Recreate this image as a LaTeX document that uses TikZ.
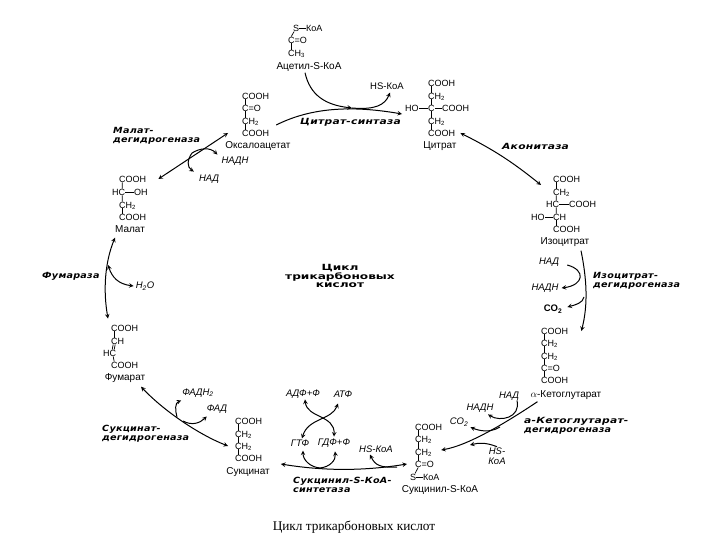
\documentclass[tikz,border=0pt]{standalone}
\usepackage{fontspec}
\setmainfont{Liberation Sans}
\newfontfamily\enzfont[LetterSpace=3,FakeStretch=1.13]{DejaVu Sans}
\newfontfamily\enzwide[LetterSpace=3,FakeStretch=1.26]{DejaVu Sans}
\newfontfamily\titlefont[FakeStretch=1.43]{DejaVu Sans}
\newfontfamily\capfont{Liberation Serif}
\usepackage{tikz}
\begin{document}
\begin{tikzpicture}[x=1pt, y=-1pt,
  every node/.style={inner sep=0pt},
  chem/.style={anchor=west, font=\fontsize{9}{9}\selectfont, text height=6.5pt, text depth=0pt},
  molname/.style={font=\fontsize{10}{10}\selectfont},
  cof/.style={font=\itshape\fontsize{9.5}{9.5}\selectfont, align=center},
  enz/.style={anchor=west, align=left, font=\enzfont\bfseries\itshape\fontsize{8.5}{9}\selectfont},
  bond/.style={line width=0.7pt},
  react/.style={line width=1pt, -stealth},
  both/.style={line width=1pt, stealth-stealth}]
\useasboundingbox (0,0) rectangle (720,540);
% acetyl
\node[chem] (ac1) at (293,28) {S};
\node[chem] (ac1b) at (306,28) {КоА};
\node[chem] (ac2) at (288,40) {C=O};
\node[chem] (ac3) at (288,53) {CH\textsubscript{3}};
\node[molname] (acL) at (309,67) {Ацетил-S-КоА};
% oxaloacetate
\node[chem] (ox1) at (242,96) {COOH};
\node[chem] (ox2) at (242,108) {C=O};
\node[chem] (ox3) at (242,121) {CH\textsubscript{2}};
\node[chem] (ox4) at (242,133) {COOH};
\node[molname] (oxL) at (258,146) {Оксалоацетат};
% citrate
\node[chem] (ci1) at (428,83) {COOH};
\node[chem] (ci2) at (428,96) {CH\textsubscript{2}};
\node[chem] (ciHO) at (405,108) {HO};
\node[chem] (ci3) at (428,108) {C};
\node[chem] (ciR) at (442,108) {COOH};
\node[chem] (ci4) at (428,121) {CH\textsubscript{2}};
\node[chem] (ci5) at (428,133) {COOH};
\node[molname] (ciL) at (440,146) {Цитрат};
% isocitrate
\node[chem] (is1) at (553,179) {COOH};
\node[chem] (is2) at (553,192) {CH\textsubscript{2}};
\node[chem] (is3) at (546,204) {HC};
\node[chem] (isR) at (569,204) {COOH};
\node[chem] (isHO) at (531,217) {HO};
\node[chem] (is4) at (553,217) {CH};
\node[chem] (is5) at (553,229) {COOH};
\node[molname] (isL) at (565,242) {Изоцитрат};
% ketoglutarate
\node[chem] (ke1) at (541,331) {COOH};
\node[chem] (ke2) at (541,343) {CH\textsubscript{2}};
\node[chem] (ke3) at (541,356) {CH\textsubscript{2}};
\node[chem] (ke4) at (541,368) {C=O};
\node[chem] (ke5) at (541,380) {COOH};
\node[molname] (keL) at (566,395) {$\alpha$-Кетоглутарат};
% succinyl
\node[chem] (sy1) at (415,427) {COOH};
\node[chem] (sy2) at (415,439) {CH\textsubscript{2}};
\node[chem] (sy3) at (415,452) {CH\textsubscript{2}};
\node[chem] (sy4) at (415,464) {C=O};
\node[chem] (sy5) at (410,477) {S};
\node[chem] (sy5b) at (423,477) {КоА};
\node[molname] (syL) at (440,490) {Сукцинил-S-КоА};
% succinate
\node[chem] (su1) at (235,421) {COOH};
\node[chem] (su2) at (235,434) {CH\textsubscript{2}};
\node[chem] (su3) at (235,446) {CH\textsubscript{2}};
\node[chem] (su4) at (235,458) {COOH};
\node[molname] (suL) at (248,472) {Сукцинат};
% fumarate
\node[chem] (fu1) at (111,328) {COOH};
\node[chem] (fu2) at (111,341) {CH};
\node[chem] (fu3) at (103,353) {HC};
\node[chem] (fu4) at (111,365) {COOH};
\node[molname] (fuL) at (125,378) {Фумарат};
% malate
\node[chem] (ma1) at (119,179) {COOH};
\node[chem] (ma2) at (112,192) {HC};
\node[chem] (maR) at (134,192) {OH};
\node[chem] (ma3) at (119,205) {CH\textsubscript{2}};
\node[chem] (ma4) at (119,217) {COOH};
\node[molname] (maL) at (130,229) {Малат};
% bonds
\foreach \a/\b in {ac2/ac3,ox1/ox2,ox2/ox3,ox3/ox4,ci1/ci2,ci2/ci3,ci3/ci4,ci4/ci5,is1/is2,is4/is5,
    ke1/ke2,ke2/ke3,ke3/ke4,ke4/ke5,sy1/sy2,sy2/sy3,sy3/sy4,su1/su2,su2/su3,su3/su4,fu1/fu2,ma3/ma4}
  \draw[bond] ([xshift=3.2pt]\a.south west) -- ([xshift=3.2pt]\b.north west);
\foreach \a/\b in {ac1/ac1b,ciHO/ci3,ci3/ciR,is3/isR,isHO/is4,ma2/maR,sy5/sy5b}
  \draw[bond] (\a) -- (\b);
\draw[bond] (ac1) -- ([xshift=3.2pt]ac2.north west);
\draw[bond] (sy5) -- ([xshift=3.2pt]sy4.south west);
\draw[bond] ([xshift=3.2pt]is2.south west) -- ([xshift=-3.2pt]is3.north east);
\draw[bond] ([xshift=-3.2pt]is3.south east) -- ([xshift=3.2pt]is4.north west);
\draw[bond] ([xshift=3.2pt]ma1.south west) -- ([xshift=-3.2pt]ma2.north east);
\draw[bond] ([xshift=-3.2pt]ma2.south east) -- ([xshift=3.2pt]ma3.north west);
\draw[bond] ([xshift=2.2pt]fu2.south west) -- ([xshift=-4.2pt]fu3.north east);
\draw[bond] ([xshift=4.2pt]fu2.south west) -- ([xshift=-2.2pt]fu3.north east);
\draw[bond] ([xshift=-3.2pt]fu3.south east) -- ([xshift=3.2pt]fu4.north west);
% cofactors
\node[font=\fontsize{9.5}{9.5}\selectfont] (hsA) at (387,86) {HS-КоА};
\node[cof] (nadA) at (549,262) {НАД};
\node[cof] (nadhA) at (545,288) {НАДН};
\node[font=\bfseries\fontsize{9.5}{9.5}\selectfont] (co2A) at (553,309) {CO\textsubscript{2}};
\node[cof] (nadB) at (509,396) {НАД};
\node[cof] (nadhB) at (480,408) {НАДН};
\node[cof] (co2B) at (459,422) {CO\textsubscript{2}};
\node[cof] (hsB) at (497,456) {HS-\\КоА};
\node[cof] (hsC) at (376,449) {HS-КоА};
\node[cof] (gtf) at (300,443) {ГТФ};
\node[cof] (gdf) at (334,443) {ГДФ+Ф};
\node[cof] (adf) at (303,394) {АДФ+Ф};
\node[cof] (atf) at (343,394) {АТФ};
\node[cof] (fadh) at (198,393) {ФАДН\textsubscript{2}};
\node[cof] (fad) at (217,409) {ФАД};
\node[cof] (water) at (145,286) {H\textsubscript{2}O};
\node[cof] (nadC) at (209,179) {НАД};
\node[cof] (nadhC) at (235,161) {НАДН};
% enzymes
\node[enz] (e1) at (300,122) {\enzwide Цитрат-синтаза};
\node[enz] (e2) at (502,146) {\enzwide Аконитаза};
\node[enz] (e3) at (593,281) {Изоцитрат-\\дегидрогеназа};
\node[enz] (e4) at (524,426) {\enzwide а-Кетоглутарат-\\дегидрогеназа};
\node[enz] (e5) at (293,485) {Сукцинил-S-КоА-\\синтетаза};
\node[enz] (e6) at (102,434) {Сукцинат-\\дегидрогеназа};
\node[enz] (e7) at (42,276) {Фумараза};
\node[enz] (e8) at (113,136) {Малат-\\дегидрогеназа};
\node[font=\titlefont\bfseries\fontsize{8.5}{7.8}\selectfont, align=center] (title) at (340,276) {Цикл\\трикарбоновых\\кислот};
\node[font=\capfont\fontsize{13.3}{13}\selectfont] (cap) at (354,527) {Цикл трикарбоновых кислот};
% joints on the curves
\coordinate (jAc) at (352,108);
\coordinate (jCo) at (584,297);
\coordinate (jKe) at (500,427);
\coordinate (jHs) at (470,445);
\coordinate (jSy) at (320,468);
\coordinate (jSk) at (397,467);
\coordinate (jFa) at (177,417);
\coordinate (jFd) at (183,421);
\coordinate (jWa) at (108,265);
\coordinate (jMa) at (192,153);
% cycle
\draw[react] ([xshift=-4pt,yshift=-1pt]acL.south) .. controls (310,95) and (325,105) .. (jAc);
\draw[react] (jAc) .. controls (375,110) and (385,105) .. ([xshift=3pt,yshift=-3pt]hsA.south);
\draw[react] ([xshift=17pt,yshift=-4pt]ox3.east) .. controls (310,108) and (350,105) .. ([yshift=-6pt,xshift=-3pt]ciHO.west);
\draw[both] ([xshift=5pt]ci5.east) to[bend left=6] ([xshift=-12pt,yshift=-6pt]is1.west);
\draw[react] ([xshift=16pt,yshift=-4pt]isL.south) .. controls (587,280) and (588,305) .. ([xshift=13pt]ke1.east);
\draw[react] ([xshift=8pt,yshift=-3pt]nadA.east) .. controls (586,270) and (584,285) .. ([xshift=3pt]nadhA.east);
\draw[react] (jCo) .. controls (583,303) and (575,305) .. ([xshift=5pt,yshift=2pt]co2A.east);
\draw[react] ([xshift=7pt,yshift=-2pt]keL.south west) .. controls (510,420) and (470,445) .. ([xshift=9pt,yshift=2pt]sy3.east);
\draw[react] ([xshift=8pt]nadB.south) .. controls (521,418) and (500,422) .. ([xshift=8pt,yshift=-2pt]nadhB.south);
\draw[react] (jKe) .. controls (490,433) and (480,431) .. ([xshift=2pt,yshift=-1pt]co2B.south east);
\draw[react] ([yshift=1pt]hsB.north) .. controls (485,442) and (478,443) .. (jHs);
\draw[both] ([xshift=-8pt]sy4.west) .. controls (370,470) and (330,472) .. ([xshift=11pt,yshift=8pt]suL.east);
\draw[react] (jSk) .. controls (380,468) and (375,465) .. ([xshift=-6pt,yshift=-2pt]hsC.south);
\draw[react] (jSy) .. controls (310,467) and (303,460) .. ([xshift=3pt,yshift=-4pt]gtf.south);
\draw[react] (jSy) .. controls (330,467) and (336,460) .. ([xshift=1pt,yshift=-4pt]gdf.south);
\draw[both] ([xshift=2pt,yshift=-1pt]adf.south) .. controls (307,418) and (335,415) .. ([yshift=2pt]gdf.north);
\draw[both] ([xshift=-5pt,yshift=-6pt]atf.south) .. controls (332,420) and (308,418) .. ([xshift=2pt,yshift=1pt]gtf.north);
\draw[both] ([xshift=-7pt]su3.west) .. controls (200,435) and (165,412) .. ([xshift=16pt,yshift=-4pt]fuL.south);
\draw[react] (jFa) .. controls (175,410) and (175,403) .. ([xshift=-1pt,yshift=-3pt]fadh.south west);
\draw[react] (jFd) .. controls (192,426) and (200,423) .. ([yshift=-3pt]fad.south west);
\draw[both] ([xshift=-3pt,yshift=6pt]fu1.north west) .. controls (103,290) and (105,262) .. ([xshift=-15pt,yshift=-5pt]maL.south);
\draw[both] (jWa) .. controls (112,277) and (118,284) .. ([xshift=-2pt]water.west);
\draw[both] ([xshift=12pt]ma1.east) -- ([xshift=-14pt,yshift=-12pt]ox3.west);
\draw[react] (jMa) .. controls (200,148) and (210,147) .. ([xshift=-4pt,yshift=2pt]nadhC.north west);
\draw[react] (jMa) .. controls (187,160) and (187,167) .. ([xshift=-5pt,yshift=3pt]nadC.north west);
\end{tikzpicture}
\end{document}
